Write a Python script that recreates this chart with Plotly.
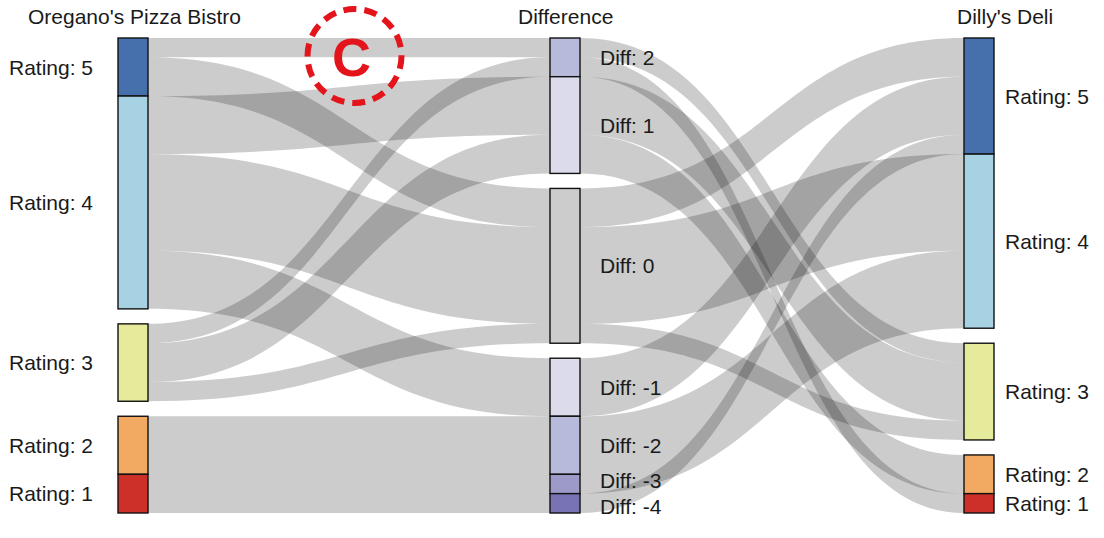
import plotly.graph_objects as go

# ---------------- data ----------------
ratings = [5, 4, 3, 2, 1]
diffs = [2, 1, 0, -1, -2, -3, -4]

# reviewers grouped by (Oregano's rating, Dilly's rating)
oregano_rating = [5, 5, 4, 4, 4, 3, 3, 3, 2, 1, 1]
dilly_rating = [3, 5, 3, 4, 5, 1, 2, 3, 4, 4, 5]
reviewers = [1, 2, 3, 5, 3, 1, 2, 1, 3, 1, 1]

column_titles = ["Oregano's Pizza Bistro", "Difference", "Dilly's Deli"]

rating_colors = {5: "#4570ab", 4: "#a6d2e3", 3: "#e6ea9b", 2: "#f2aa62", 1: "#cd3028"}
diff_colors = {2: "#b8badc", 1: "#dbdbeb", 0: "#cccccc", -1: "#dbdbeb",
               -2: "#b8badc", -3: "#9e9ac8", -4: "#7873b2"}
rating_group = {5: 0, 4: 0, 3: 1, 2: 2, 1: 2}
diff_group = {2: 0, 1: 0, 0: 1, -1: 2, -2: 2, -3: 2, -4: 2}

# ---------------- layout constants ----------------
W, H = 1104, 538
M = dict(l=0, r=0, t=38, b=25)
plot_w = W - M["l"] - M["r"]
plot_h = H - M["t"] - M["b"]
PAD = 5
THICK = 30
col_px = [133, 565, 979]
col_x = [p / plot_w for p in col_px]

total = sum(reviewers)
ky = (plot_h - (len(diffs) - 1) * PAD) / total

# ---------------- nodes & links ----------------
n_r, n_d = len(ratings), len(diffs)
left_idx = {r: i for i, r in enumerate(ratings)}
diff_idx = {d: n_r + i for i, d in enumerate(diffs)}
right_idx = {r: n_r + n_d + i for i, r in enumerate(ratings)}

src, tgt, val = [], [], []
for o, d, n in zip(oregano_rating, dilly_rating, reviewers):
    src.append(left_idx[o]); tgt.append(diff_idx[o - d]); val.append(n)
for o, d, n in zip(oregano_rating, dilly_rating, reviewers):
    src.append(diff_idx[o - d]); tgt.append(right_idx[d]); val.append(n)

left_counts = [sum(n for o, n in zip(oregano_rating, reviewers) if o == r) for r in ratings]
diff_counts = [sum(n for o, d, n in zip(oregano_rating, dilly_rating, reviewers) if o - d == k) for k in diffs]
right_counts = [sum(n for d, n in zip(dilly_rating, reviewers) if d == r) for r in ratings]


def column_centers(counts, groups):
    n_gaps = len(set(groups)) - 1
    gap = (plot_h - sum(counts) * ky) / n_gaps
    y, prev, out = 0.0, None, []
    for c, g in zip(counts, groups):
        if prev is not None and g != prev:
            y += gap
        h = c * ky
        out.append((y + h / 2) / plot_h)
        y += h
        prev = g
    return out


left_y = column_centers(left_counts, [rating_group[r] for r in ratings])
diff_y = column_centers(diff_counts, [diff_group[k] for k in diffs])
right_y = column_centers(right_counts, [rating_group[r] for r in ratings])

left_names = [f"Rating: {r}" for r in ratings]
diff_names = [f"Diff: {k}" for k in diffs]
right_names = [f"Rating: {r}" for r in ratings]

node_x = [col_x[0]] * n_r + [col_x[1]] * n_d + [col_x[2]] * n_r
node_y = left_y + diff_y + right_y
node_colors = [rating_colors[r] for r in ratings] + [diff_colors[k] for k in diffs] + [rating_colors[r] for r in ratings]
hover_names = [f"Oregano's {n}" for n in left_names] + diff_names + [f"Dilly's {n}" for n in right_names]

fig = go.Figure(go.Sankey(
    arrangement="fixed",
    node=dict(
        label=[""] * len(node_x),
        customdata=hover_names,
        hovertemplate="%{customdata}: %{value}<extra></extra>",
        x=node_x, y=node_y,
        pad=PAD, thickness=THICK,
        color=node_colors,
        line=dict(color="#111111", width=1.4),
    ),
    link=dict(source=src, target=tgt, value=val,
              color="rgba(0,0,0,0.2)"),
))

FONT = "Liberation Sans, Arial, Helvetica, sans-serif"
FS = 21
TXT = "#1a1a1a"
ann = []


def to_paper_y(frac_from_top):
    return 1 - frac_from_top


for name, y in zip(left_names, left_y):
    ann.append(dict(x=(col_px[0] - THICK / 2 - 23) / plot_w, y=to_paper_y(y), text=name,
                    xanchor="right", yanchor="middle", showarrow=False))
# small nudges keep the two thinnest labels apart
diff_nudge = {-3: 3, -4: -3}
for k, name, y in zip(diffs, diff_names, diff_y):
    ann.append(dict(x=598 / plot_w, y=to_paper_y(y), text=name,
                    xanchor="left", yanchor="middle", showarrow=False,
                    yshift=diff_nudge.get(k, 0)))
for name, y in zip(right_names, right_y):
    ann.append(dict(x=(col_px[2] + THICK / 2 + 9) / plot_w, y=to_paper_y(y), text=name,
                    xanchor="left", yanchor="middle", showarrow=False))

title_y = (plot_h + M["t"] - 17) / plot_h
for t, xp in zip(column_titles, [134, 565, 1005]):
    ann.append(dict(x=xp / plot_w, y=title_y, text=t, xanchor="center", yanchor="middle",
                    showarrow=False))

# red dashed "C" badge
ann.append(dict(x=352 / plot_w, y=(plot_h + M["t"] - 57) / plot_h, text="<b>C</b>",
                xanchor="center", yanchor="middle", showarrow=False,
                font=dict(size=54, color="#e3141b", family=FONT)))

fig.update_layout(
    width=W, height=H,
    margin=M,
    paper_bgcolor="white",
    plot_bgcolor="white",
    font=dict(family=FONT, size=FS, color=TXT),
    annotations=ann,
    shapes=[dict(type="circle", xref="paper", yref="paper",
                 x0=307.5 / plot_w, x1=401.5 / plot_w,
                 y0=(plot_h + M["t"] - 103) / plot_h,
                 y1=(plot_h + M["t"] - 9) / plot_h,
                 line=dict(color="#e3141b", width=6, dash="13px,8px"))],
)

# remove the browser's default 8px page margin so the figure fills the window
fig.write_html("out.html", config={"displayModeBar": False},
               post_script="document.body.style.margin='0px';")
